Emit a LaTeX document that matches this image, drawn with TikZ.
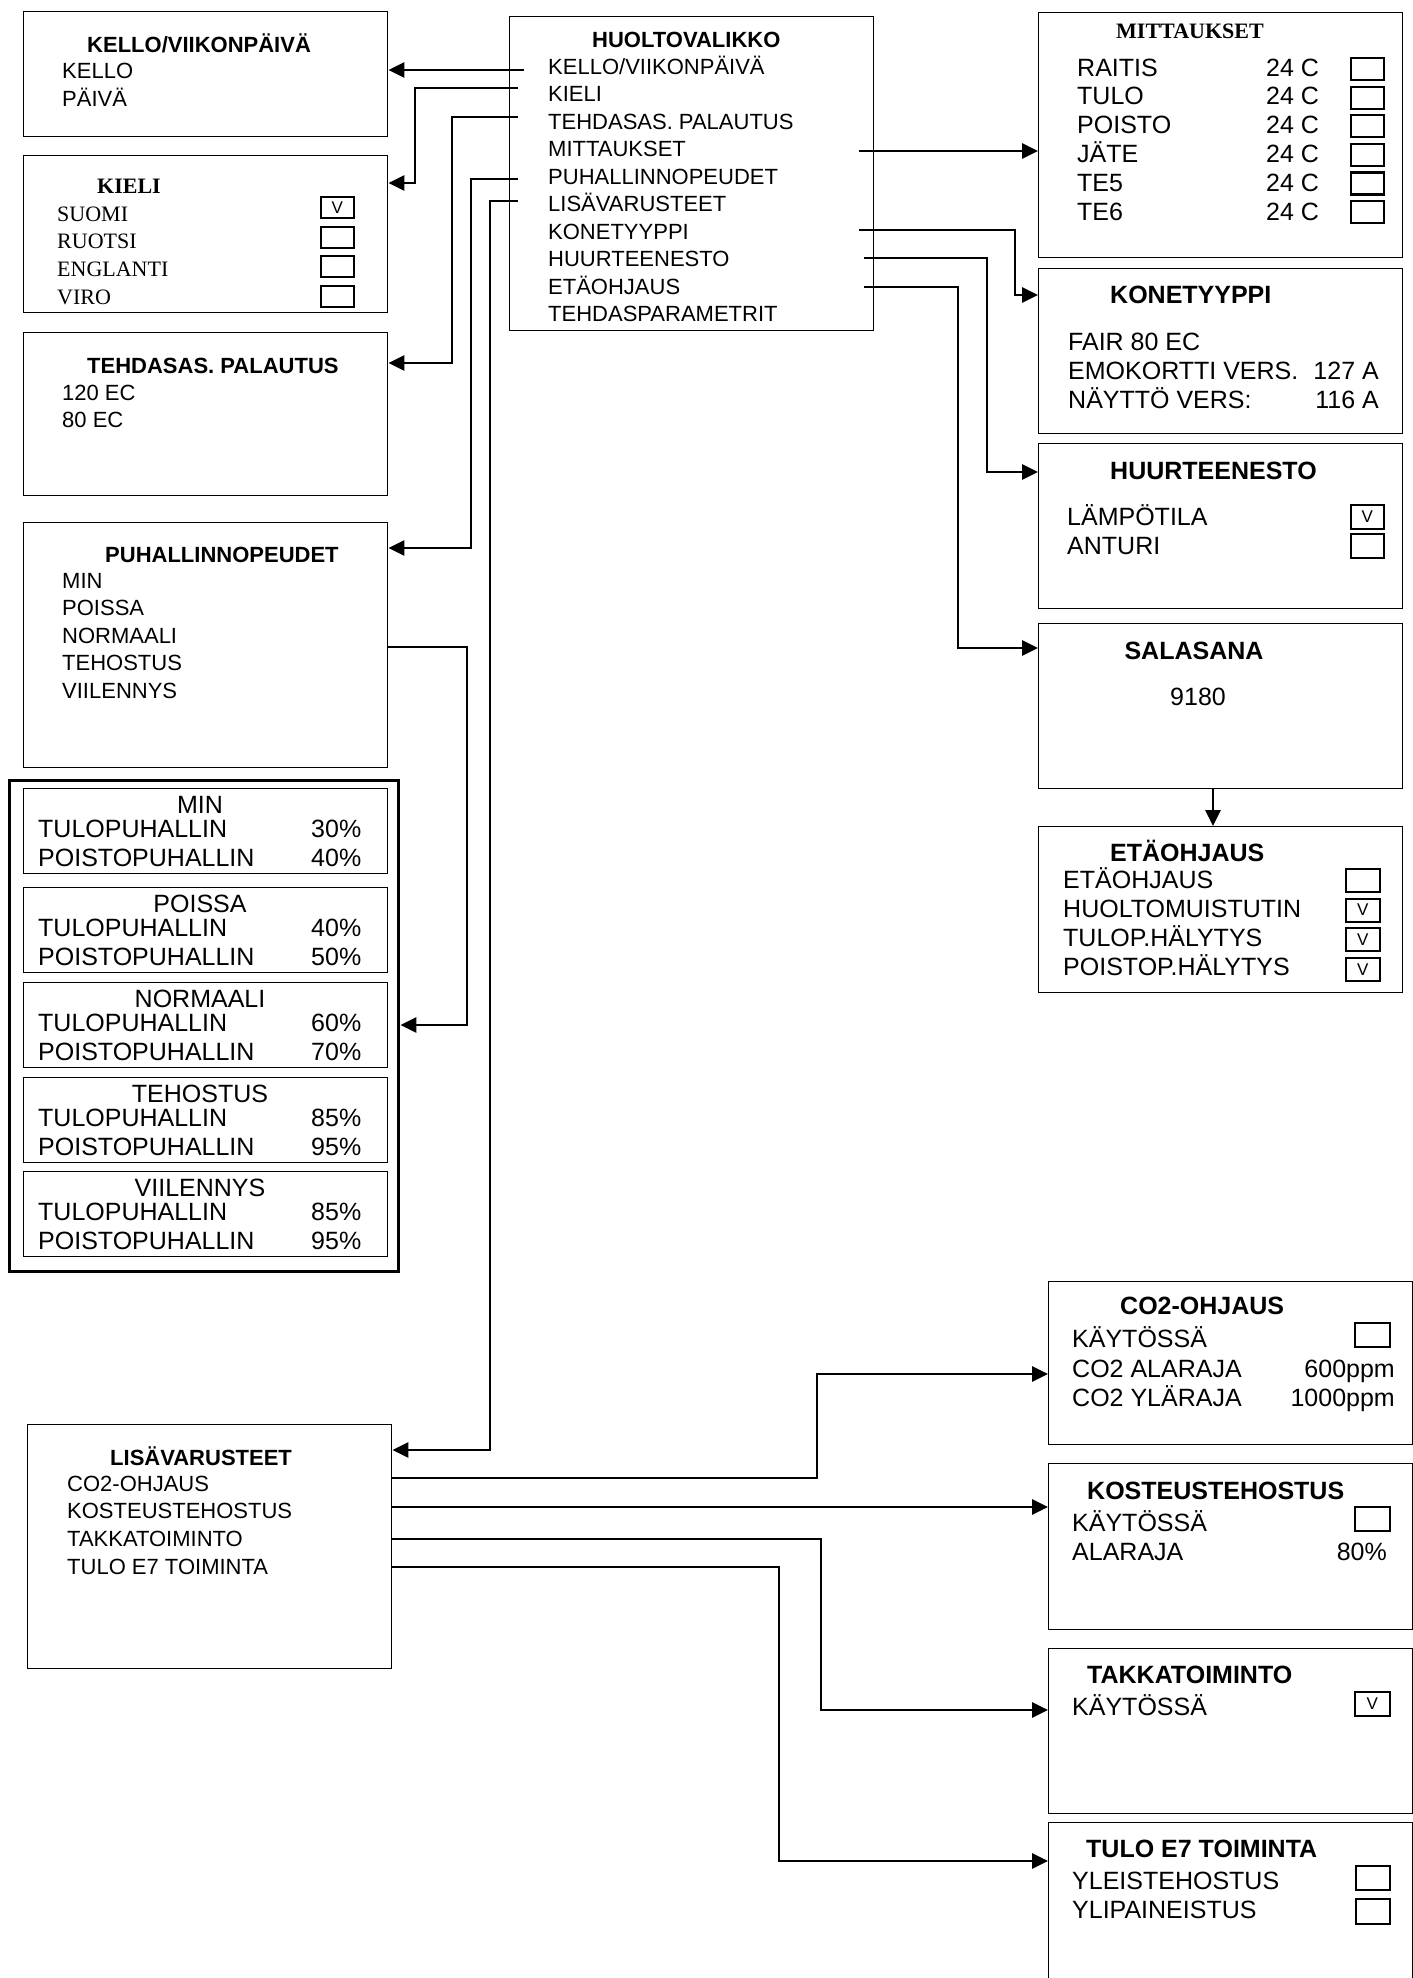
\documentclass[tikz,border=0pt]{standalone}
\usepackage{fontspec}
\setmainfont{Liberation Sans}
\newfontfamily\timesfont{Liberation Serif}
\usetikzlibrary{arrows.meta}

\begin{document}
\begin{tikzpicture}
[x=1pt,y=-1pt,
  boxdecorate/.style={draw,line width=1.4pt,anchor=north west,inner sep=0pt},
  framedecorate/.style={draw,line width=3.4pt,anchor=north west,inner sep=0pt},
  checkdecorate/.style={draw,line width=1.8pt,anchor=north west,inner sep=0pt,
    minimum width=34pt,minimum height=23pt,text depth=0pt,font=\fontsize{17}{17}\selectfont},
  textdecorate/.style={anchor=base west,inner sep=0pt,font=\fontsize{22}{22}\selectfont},
  bigtextdecorate/.style={anchor=base west,inner sep=0pt,font=\fontsize{25}{25}\selectfont},
  titledecorate/.style={anchor=base west,inner sep=0pt,font=\bfseries\fontsize{22}{22}\selectfont},
  bigtitledecorate/.style={anchor=base west,inner sep=0pt,font=\bfseries\fontsize{25}{25}\selectfont},
  seriftitledecorate/.style={anchor=base west,inner sep=0pt,font=\timesfont\bfseries\fontsize{22}{22}\selectfont},
  seriftextdecorate/.style={anchor=base west,inner sep=0pt,font=\timesfont\fontsize{22}{22}\selectfont},
  linedecorate/.style={-,line width=2.9pt},
  arrowdecorate/.style={-{Triangle[length=16pt,width=15pt]},line width=2.9pt}]
\useasboundingbox (0,0) rectangle (1413,1978);
\clip (0,0) rectangle (1413,1978);
%% boxes
\foreach \boxname/\x/\y/\w/\h in {
  kello/23/11/364/125, kieli/23/155/364/157, tehdas/23/332/364/163,
  puhal/23/522/364/245, lisa/27/1424/364/244, huolto/509/16/364/314,
  mitt/1038/12/364/245, kone/1038/268/364/165, huur/1038/443/364/165,
  sala/1038/623/364/165, etao/1038/826/364/166, co2/1048/1281/364/163,
  koste/1048/1463/364/166, takka/1048/1648/364/165, tulo/1048/1822/364/190}
{
  \node (\boxname) at (\x,\y) [boxdecorate,minimum width=\w pt,minimum height=\h pt] {};
}
\node (fan) at (8,779) [framedecorate,minimum width=389pt,minimum height=491pt] {};

%% main menu
\node (huolto-title) at (592,47) [titledecorate] {HUOLTOVALIKKO};
\foreach \entry [count=\i from 0] in {{KELLO/VIIKONPÄIVÄ}, KIELI, TEHDASAS. PALAUTUS,
  MITTAUKSET, PUHALLINNOPEUDET, LISÄVARUSTEET, KONETYYPPI, HUURTEENESTO,
  ETÄOHJAUS, TEHDASPARAMETRIT}
{
  \node (huolto-\i) at (548,{74+27.5*\i}) [textdecorate] {\entry};
}

%% left column
\node (kello-title) at (87,52) [titledecorate] {KELLO/VIIKONPÄIVÄ};
\node (kello-1) at (62,78) [textdecorate] {KELLO};
\node (kello-2) at (62,106) [textdecorate] {PÄIVÄ};

\node (kieli-title) at (97,193) [seriftitledecorate] {KIELI};
\foreach \lang/\chk [count=\i from 0] in {SUOMI/V, RUOTSI/{}, ENGLANTI/{}, VIRO/{}}
{
  \node (kieli-\i) at (57,{221+27.7*\i}) [seriftextdecorate] {\lang};
  \node (kieli-box-\i) at (320,{196+29.7*\i}) [checkdecorate,minimum width=33pt,minimum height=21pt] {\chk};
}

\node (tehdas-title) at (87,373) [titledecorate] {TEHDASAS. PALAUTUS};
\node (tehdas-1) at (62,400) [textdecorate] {120 EC};
\node (tehdas-2) at (62,427) [textdecorate] {80 EC};

\node (puhal-title) at (105,562) [titledecorate] {PUHALLINNOPEUDET};
\foreach \speed [count=\i from 0] in {MIN, POISSA, NORMAALI, TEHOSTUS, VIILENNYS}
{
  \node (puhal-\i) at (62,{588+27.5*\i}) [textdecorate] {\speed};
}

%% fan speeds
\foreach \fname/\ftitle/\top/\tulo/\poisto in {
  min/MIN/788/30/40, poissa/POISSA/887/40/50, normaali/NORMAALI/982/60/70,
  tehostus/TEHOSTUS/1077/85/95, viilennys/VIILENNYS/1171/85/95}
{
  \node (\fname) at (23,\top) [boxdecorate,minimum width=364pt,minimum height=85pt] {};
  \node (\fname-title) at (200,\top+25) [bigtextdecorate,anchor=base] {\ftitle};
  \node (\fname-tulo) at (38,\top+49) [bigtextdecorate] {TULOPUHALLIN};
  \node (\fname-poisto) at (38,\top+78) [bigtextdecorate] {POISTOPUHALLIN};
  \node (\fname-tulov) at (311,\top+49) [bigtextdecorate] {\tulo\%};
  \node (\fname-poistov) at (311,\top+78) [bigtextdecorate] {\poisto\%};
}

\node (lisa-title) at (110,1465) [titledecorate] {LISÄVARUSTEET};
\foreach \extra [count=\i from 0] in {CO2-OHJAUS, KOSTEUSTEHOSTUS, TAKKATOIMINTO, TULO E7 TOIMINTA}
{
  \node (lisa-\i) at (67,{1491+27.7*\i}) [textdecorate] {\extra};
}

%% right column
\node (mitt-title) at (1116,38) [seriftitledecorate] {MITTAUKSET};
\foreach \sensor [count=\i from 0] in {RAITIS, TULO, POISTO, JÄTE, TE5, TE6}
{
  \node (mitt-\i) at (1077,{76+28.8*\i}) [bigtextdecorate] {\sensor};
  \node (mitt-val-\i) at (1266,{76+28.8*\i}) [bigtextdecorate] {24 C};
  \node (mitt-box-\i) at (1350,{57+28.6*\i}) [checkdecorate,line width=2.2pt,minimum width=33pt,minimum height=22pt] {};
}

\node (kone-title) at (1110,303) [bigtitledecorate] {KONETYYPPI};
\node (kone-1) at (1068,350) [bigtextdecorate] {FAIR 80 EC};
\node (kone-2) at (1068,379) [bigtextdecorate] {EMOKORTTI VERS.};
\node (kone-3) at (1068,408) [bigtextdecorate] {NÄYTTÖ VERS:};
\node (kone-val-2) at (1379,379) [bigtextdecorate,anchor=base east] {127 A};
\node (kone-val-3) at (1379,408) [bigtextdecorate,anchor=base east] {116 A};

\node (huur-title) at (1110,479) [bigtitledecorate] {HUURTEENESTO};
\node (huur-1) at (1067,525) [bigtextdecorate] {LÄMPÖTILA};
\node (huur-2) at (1067,554) [bigtextdecorate] {ANTURI};
\node (huur-box-1) at (1350,504) [checkdecorate,minimum width=33pt,minimum height=24pt] {V};
\node (huur-box-2) at (1350,533) [checkdecorate,minimum width=33pt,minimum height=24pt] {};

\node (sala-title) at (1194,659) [bigtitledecorate,anchor=base] {SALASANA};
\node (sala-code) at (1198,705) [bigtextdecorate,anchor=base] {9180};

\node (etao-title) at (1110,861) [bigtitledecorate] {ETÄOHJAUS};
\foreach \option/\chk [count=\i from 0] in {ETÄOHJAUS/{}, HUOLTOMUISTUTIN/V,
  TULOP.HÄLYTYS/V, POISTOP.HÄLYTYS/V}
{
  \node (etao-\i) at (1063,{888+29*\i}) [bigtextdecorate] {\option};
  \node (etao-box-\i) at (1345,{868+29.7*\i}) [checkdecorate] {\chk};
}

\node (co2-title) at (1120,1314) [bigtitledecorate] {CO2-OHJAUS};
\node (co2-1) at (1072,1347) [bigtextdecorate] {KÄYTÖSSÄ};
\node (co2-2) at (1072,1377) [bigtextdecorate] {CO2 ALARAJA};
\node (co2-3) at (1072,1406) [bigtextdecorate] {CO2 YLÄRAJA};
\node (co2-val-2) at (1395,1377) [bigtextdecorate,anchor=base east] {600ppm};
\node (co2-val-3) at (1395,1406) [bigtextdecorate,anchor=base east] {1000ppm};
\node (co2-box) at (1354,1322) [checkdecorate,minimum width=35pt,minimum height=24pt] {};

\node (koste-title) at (1087,1499) [bigtitledecorate] {KOSTEUSTEHOSTUS};
\node (koste-1) at (1072,1531) [bigtextdecorate] {KÄYTÖSSÄ};
\node (koste-2) at (1072,1560) [bigtextdecorate] {ALARAJA};
\node (koste-val-2) at (1387,1560) [bigtextdecorate,anchor=base east] {80\%};
\node (koste-box) at (1354,1506) [checkdecorate,minimum width=35pt,minimum height=24pt] {};

\node (takka-title) at (1087,1683) [bigtitledecorate] {TAKKATOIMINTO};
\node (takka-1) at (1072,1715) [bigtextdecorate] {KÄYTÖSSÄ};
\node (takka-box) at (1354,1691) [checkdecorate,minimum width=35pt,minimum height=24pt] {V};

\node (tulo-title) at (1086,1857) [bigtitledecorate] {TULO E7 TOIMINTA};
\node (tulo-1) at (1072,1889) [bigtextdecorate] {YLEISTEHOSTUS};
\node (tulo-2) at (1072,1918) [bigtextdecorate] {YLIPAINEISTUS};
\node (tulo-box-1) at (1355,1865) [checkdecorate,minimum width=34pt,minimum height=24pt] {};
\node (tulo-box-2) at (1355,1898) [checkdecorate,minimum width=34pt,minimum height=25pt] {};

%% connector ends and corners
\foreach \nodename/\x/\y in {
  c-kello/524/70, c-kieli/518/88, c-tehdas/518/117, c-puhal/518/179, c-lisa/518/201,
  v-kieli/415/183, v-tehdas/452/363, v-puhal/471/548, v-lisa/490/1450,
  c-mitt/859/151, c-kone/859/230, c-huur/864/258, c-sala/864/287,
  v-kone/1015/295, v-huur/987/472, v-sala/958/648, c-etao/1213/788,
  c-fan/387/647, v-fan/467/1025,
  c-co2/391/1478, c-koste/391/1507, c-takka/391/1539, c-tulo/391/1567,
  v-co2/817/1374, v-takka/821/1710, v-tulo/779/1861}
{
  \coordinate (\nodename) at (\x,\y);
}
%% connectors
\draw[arrowdecorate] (c-kello) -- (c-kello -| kello.east);
\foreach \nodename in {kieli, tehdas, puhal, lisa}
{
  \draw[arrowdecorate] (c-\nodename) -| (v-\nodename) -- (v-\nodename -| \nodename.east);
}
\draw[arrowdecorate] (c-mitt) -- (c-mitt -| mitt.west);
\foreach \nodename in {kone, huur, sala}
{
  \draw[arrowdecorate] (c-\nodename) -| (v-\nodename) -- (v-\nodename -| \nodename.west);
}
\draw[arrowdecorate] (c-etao) -- (c-etao |- etao.north);
\draw[arrowdecorate] (c-fan) -| (v-fan) -- (v-fan -| fan.east);
\draw[arrowdecorate] (c-koste) -- (c-koste -| koste.west);
\foreach \nodename in {co2, takka, tulo}
{
  \draw[arrowdecorate] (c-\nodename) -| (v-\nodename) -- (v-\nodename -| \nodename.west);
}
\end{tikzpicture}
\end{document}
